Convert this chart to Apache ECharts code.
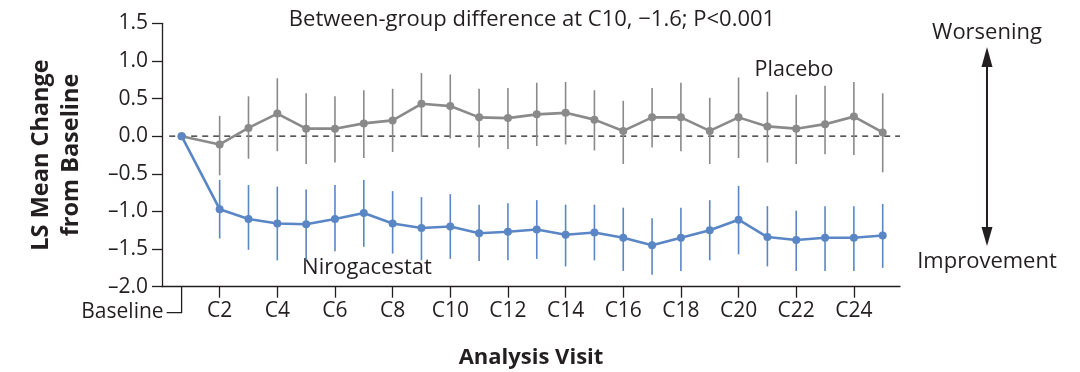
<!DOCTYPE html>
<html>
<head>
<meta charset="utf-8">
<script src="https://cdn.jsdelivr.net/npm/echarts@6/dist/echarts.min.js"></script>
<style>
  html, body { margin: 0; padding: 0; background: #ffffff; }
  #chart { width: 1080px; height: 372px; }
</style>
</head>
<body>
<div id="chart"></div>
<script>
// Visit positions on the x axis (baseline sits just before C2)
const visitPos = [0.68, 2, 3, 4, 5, 6, 7, 8, 9, 10, 11, 12, 13, 14, 15, 16, 17, 18, 19, 20, 21, 22, 23, 24, 25];
const tickVisits = [2, 4, 6, 8, 10, 12, 14, 16, 18, 20, 22, 24];
const yTicks = { min: -2.0, max: 1.5, step: 0.5 };

// LS mean change from baseline, with 95% CI bounds
const placeboMean = [0, -0.11, 0.11, 0.30, 0.10, 0.10, 0.17, 0.21, 0.43, 0.40, 0.25, 0.24, 0.29, 0.31, 0.22, 0.07, 0.25, 0.25, 0.07, 0.25, 0.13, 0.10, 0.16, 0.26, 0.05];
const placeboUpper = [null, 0.27, 0.53, 0.77, 0.57, 0.53, 0.61, 0.63, 0.84, 0.82, 0.63, 0.64, 0.71, 0.72, 0.61, 0.47, 0.64, 0.71, 0.51, 0.78, 0.59, 0.55, 0.67, 0.72, 0.57];
const placeboLower = [null, -0.52, -0.30, -0.20, -0.37, -0.35, -0.29, -0.21, -0.01, -0.03, -0.15, -0.17, -0.13, -0.11, -0.19, -0.37, -0.15, -0.20, -0.37, -0.29, -0.35, -0.37, -0.24, -0.25, -0.48];

const niroMean = [0, -0.97, -1.10, -1.16, -1.17, -1.10, -1.02, -1.16, -1.22, -1.20, -1.29, -1.27, -1.24, -1.31, -1.28, -1.35, -1.45, -1.35, -1.25, -1.11, -1.34, -1.38, -1.35, -1.35, -1.32];
const niroUpper = [null, -0.58, -0.65, -0.67, -0.71, -0.65, -0.58, -0.73, -0.81, -0.77, -0.91, -0.89, -0.85, -0.91, -0.91, -0.95, -1.09, -0.95, -0.85, -0.66, -0.93, -0.99, -0.93, -0.93, -0.90];
const niroLower = [null, -1.36, -1.51, -1.65, -1.65, -1.53, -1.47, -1.56, -1.65, -1.63, -1.66, -1.65, -1.63, -1.73, -1.65, -1.79, -1.84, -1.79, -1.65, -1.57, -1.73, -1.79, -1.79, -1.79, -1.75];

const zeroLineSpan = [0.25, 25.6];

const INK = '#231f20';
const GRAY = '#8a8a8a';
const BLUE = '#5a86c5';
const FONT = '"Open Sans"';

function points(mean) {
  return visitPos.map((x, i) => [x, mean[i]]);
}
function bars(upper, lower) {
  const out = [];
  visitPos.forEach((x, i) => {
    if (upper[i] !== null) out.push([x, lower[i], upper[i]]);
  });
  return out;
}
function errorBarSeries(name, upper, lower, color) {
  return {
    name: name,
    type: 'custom',
    z: 2,
    data: bars(upper, lower),
    renderItem: function (params, api) {
      const lo = api.coord([api.value(0), api.value(1)]);
      const hi = api.coord([api.value(0), api.value(2)]);
      return {
        type: 'line',
        shape: { x1: lo[0], y1: lo[1], x2: hi[0], y2: hi[1] },
        style: { stroke: color, lineWidth: 1.6 }
      };
    }
  };
}

const chart = echarts.init(document.getElementById('chart'), null, { renderer: 'canvas' });

const option = {
  animation: false,
  backgroundColor: '#ffffff',
  textStyle: { fontFamily: FONT, color: INK },
  grid: {
    left: 162, right: 180, top: 23.3, bottom: 85.3,
    containLabel: false, outerBoundsMode: 'none'
  },
  xAxis: {
    type: 'value',
    min: 0,
    max: 25.6,
    name: 'Analysis Visit',
    nameLocation: 'middle',
    nameGap: 60,
    nameTextStyle: { fontFamily: FONT, fontWeight: 'bold', fontSize: 22, color: INK },
    splitLine: { show: false },
    axisLine: { show: true, onZero: false, lineStyle: { color: INK, width: 1.3 } },
    axisTick: { show: true, length: 11, lineStyle: { color: INK, width: 1.3 }, customValues: tickVisits },
    axisLabel: {
      fontFamily: FONT, fontSize: 21, color: INK, margin: 14,
      customValues: tickVisits,
      formatter: v => 'C' + Math.round(v)
    }
  },
  yAxis: {
    type: 'value',
    min: yTicks.min,
    max: yTicks.max,
    interval: yTicks.step,
    name: 'LS Mean Change\nfrom Baseline',
    nameLocation: 'middle',
    nameRotate: 90,
    nameGap: 76,
    nameTextStyle: { fontFamily: FONT, fontWeight: 'bold', fontSize: 23.5, color: INK, lineHeight: 30 },
    splitLine: { show: false },
    axisLine: { show: true, onZero: false, lineStyle: { color: INK, width: 1.3 } },
    axisTick: { show: true, length: 10, lineStyle: { color: INK, width: 1.3 } },
    axisLabel: {
      fontFamily: FONT, fontSize: 21, color: INK, margin: 14,
      formatter: v => (v < 0 ? '\u2013' : '') + Math.abs(v).toFixed(1)
    }
  },
  series: [
    {
      name: 'zero',
      type: 'line',
      data: zeroLineSpan.map(x => [x, 0]),
      symbol: 'none',
      silent: true,
      z: 1,
      lineStyle: { color: INK, width: 1.3, type: [6, 5] }
    },
    errorBarSeries('Placebo CI', placeboUpper, placeboLower, GRAY),
    errorBarSeries('Nirogacestat CI', niroUpper, niroLower, BLUE),
    {
      name: 'Placebo',
      type: 'line',
      data: points(placeboMean),
      z: 3,
      symbol: 'circle',
      symbolSize: 8,
      itemStyle: { color: GRAY },
      lineStyle: { color: GRAY, width: 2.6 }
    },
    {
      name: 'Nirogacestat',
      type: 'line',
      data: points(niroMean),
      z: 4,
      symbol: 'circle',
      symbolSize: 8,
      itemStyle: { color: BLUE },
      lineStyle: { color: BLUE, width: 2.6 }
    },
    {
      // Baseline tick with its elbow leader to the "Baseline" label
      name: 'baselineTick',
      type: 'custom',
      silent: true,
      z: 5,
      data: [[visitPos[0], yTicks.min]],
      renderItem: function (params, api) {
        const p = api.coord([api.value(0), api.value(1)]);
        const drop = 26, reach = 15;
        return {
          type: 'group',
          children: [
            {
              type: 'polyline',
              shape: { points: [[p[0], p[1]], [p[0], p[1] + drop], [p[0] - reach, p[1] + drop]] },
              style: { stroke: INK, lineWidth: 1.3, fill: null }
            },
            {
              type: 'text',
              x: p[0] - reach - 3,
              y: p[1] + drop - 1,
              style: {
                text: 'Baseline', fill: INK, fontFamily: FONT, fontSize: 21,
                align: 'right', verticalAlign: 'middle'
              }
            }
          ]
        };
      }
    }
  ],
  graphic: [
    { type: 'text', style: { text: 'Between-group difference at C10, \u22121.6; P<0.001', fill: INK, fontFamily: FONT, fontSize: 22, align: 'center', verticalAlign: 'middle', x: 532, y: 20 } },
    { type: 'text', style: { text: 'Placebo', fill: INK, fontFamily: FONT, fontSize: 21.5, align: 'center', verticalAlign: 'middle', x: 794, y: 70 } },
    { type: 'text', style: { text: 'Nirogacestat', fill: INK, fontFamily: FONT, fontSize: 22, align: 'center', verticalAlign: 'middle', x: 367, y: 268 } },
    { type: 'text', style: { text: 'Worsening', fill: INK, fontFamily: FONT, fontSize: 22, align: 'center', verticalAlign: 'middle', x: 987, y: 33 } },
    { type: 'text', style: { text: 'Improvement', fill: INK, fontFamily: FONT, fontSize: 22, align: 'center', verticalAlign: 'middle', x: 987, y: 262 } },
    { type: 'line', shape: { x1: 987, y1: 64, x2: 987, y2: 230 }, style: { stroke: INK, lineWidth: 2 } },
    { type: 'polygon', shape: { points: [[987, 47], [981.5, 67], [992.5, 67]] }, style: { fill: INK } },
    { type: 'polygon', shape: { points: [[987, 246], [981.5, 227], [992.5, 227]] }, style: { fill: INK } }
  ]
};

chart.setOption(option);
</script>
</body>
</html>
